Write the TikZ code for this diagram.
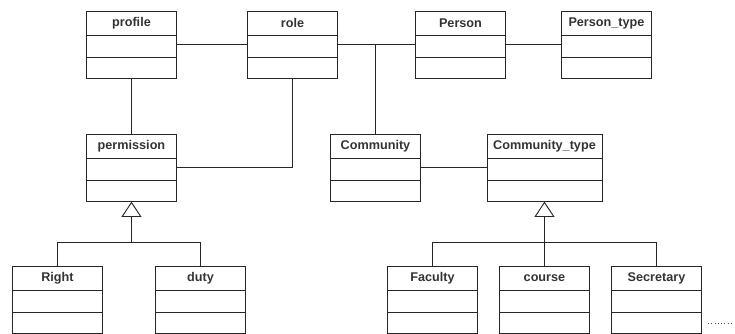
\documentclass[tikz,border=0pt]{standalone}
\usepackage{fontspec}
\setmainfont{Liberation Sans}
\usetikzlibrary{arrows.meta}

\tikzset{
  classbox/.style={draw=black!85, line width=0.8pt, anchor=north west,
    minimum width=2.7cm, minimum height=2cm, inner sep=0pt,
    label={[anchor=center, yshift=-0.36cm, text=black!80,
      font=\bfseries\fontsize{10.8}{13}\selectfont]north:#1}},
  wide/.style={minimum width=3.45cm},
  link/.style={draw=black!85, line width=0.8pt},
  inherit/.style={link, -{Triangle[open, length=0.46cm, width=0.6cm]}}
}

\begin{document}
\begin{tikzpicture}[x=0.03cm, y=-0.03cm]
\useasboundingbox (0,0) rectangle (735,333);
\node[classbox=profile] (profile) at (86,11) {}; % top row
\node[classbox=role] (role) at (247,11) {};
\node[classbox=Person] (person) at (415,11) {};
\node[classbox=Person\_type] (persontype) at (561,11) {};
\node[classbox=permission] (permission) at (86,134) {}; % middle row
\node[classbox=Community] (community) at (330,134) {};
\node[classbox=Community\_type, wide] (communitytype) at (486.5,134) {};
\node[classbox=Right] (right) at (12,266) {}; % bottom row
\node[classbox=duty] (duty) at (155,266) {};
\node[classbox=Faculty] (faculty) at (387,266) {};
\node[classbox=course] (course) at (499,266) {};
\node[classbox=Secretary] (secretary) at (611,266) {};
\foreach \c in {profile,role,person,persontype,permission,community,communitytype,right,duty,faculty,course,secretary}{
  \draw[link] ([yshift=-0.72cm]\c.north west) -- ([yshift=-0.72cm]\c.north east);
  \draw[link] ([yshift=-1.38cm]\c.north west) -- ([yshift=-1.38cm]\c.north east);
}
% associations
\draw[link] (profile.east) -- (role.west);
\draw[link] (role.east) -- (person.west);
\draw[link] (person.east) -- (persontype.west);
\coordinate (rolejoin) at (375.7,0 |- role.east);
\draw[link] (rolejoin) -- (rolejoin |- community.north);
\draw[link] (profile.south) -- (permission.north);
\draw[link] (role.south) |- (permission.east);
\draw[link] (community.east) -- (communitytype.west);
% generalisations
\coordinate (permsplit) at (permission.south |- 0,242.7);
\draw[inherit] (permsplit) -- (permission.south);
\draw[link] (right.north) |- (permsplit) -| (duty.north);
\coordinate (commsplit) at (communitytype.south |- 0,242.7);
\draw[inherit] (commsplit) -- (communitytype.south);
\draw[link] (faculty.north) |- (commsplit) -| (secretary.north);
\draw[link] (course.north) -- (commsplit);
\draw[black!70, line width=0.8pt, dotted] ([xshift=0.18cm, yshift=0.3cm]secretary.south east) -- ++(26,0);
\end{tikzpicture}
\end{document}
